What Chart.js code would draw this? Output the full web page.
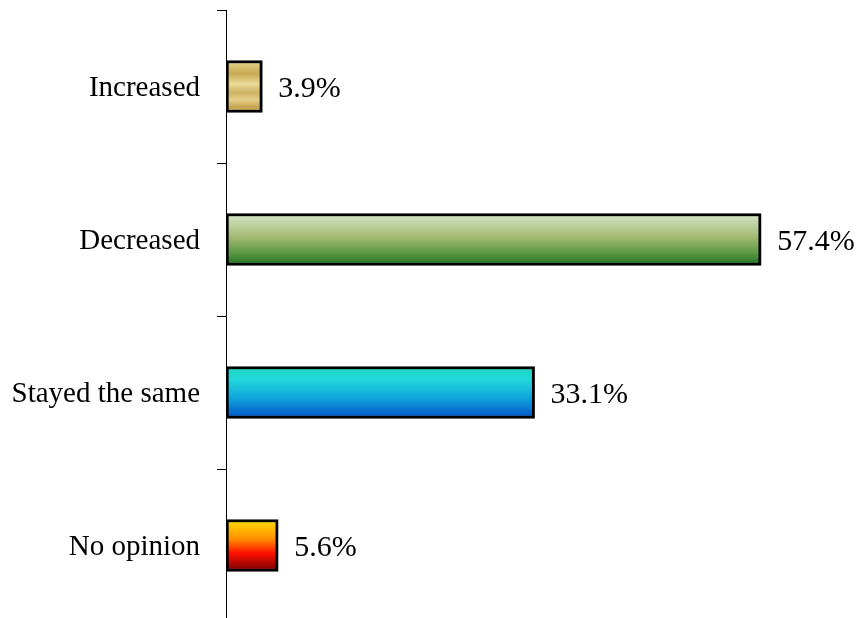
<!DOCTYPE html>
<html><head><meta charset="utf-8">
<script src="https://cdn.jsdelivr.net/npm/chart.js@4/dist/chart.umd.min.js"></script>
<style>html,body{margin:0;padding:0;background:#fff;overflow:hidden}#wrap{width:861px;height:622px}</style>
</head><body><div id="wrap"><canvas id="c" width="861" height="622"></canvas></div>
<script>
const categories = ["Increased", "Decreased", "Stayed the same", "No opinion"];
const values = [3.9, 57.4, 33.1, 5.6];
const valueLabels = ["3.9%", "57.4%", "33.1%", "5.6%"];
const baseColors = ["#d6be70", "#8fb060", "#18b0dc", "#ff6000"];
const gradientStops = [
  [[0,"#e9d792"],[0.25,"#c8aa52"],[0.45,"#eadb98"],[0.62,"#cdb263"],[0.76,"#e4cf88"],[0.9,"#c4a34e"],[1,"#d8c070"]],
  [[0,"#d6e6c8"],[0.45,"#a4bb74"],[0.75,"#5f9a45"],[1,"#1d6e1e"]],
  [[0,"#1cd6bc"],[0.25,"#22d8dc"],[0.6,"#10a6dc"],[1,"#0050c4"]],
  [[0,"#ffe000"],[0.38,"#ff8c00"],[0.65,"#ff1000"],[1,"#700000"]]
];
const BAR = 52;
const gradPlugin = {
  id: 'grad',
  beforeDatasetsDraw(chart) {
    const ctx = chart.ctx;
    chart.getDatasetMeta(0).data.forEach((bar, i) => {
      if (!isFinite(bar.y)) return;
      const g = ctx.createLinearGradient(0, bar.y - BAR/2, 0, bar.y + BAR/2);
      gradientStops[i].forEach(s => g.addColorStop(s[0], s[1]));
      bar.options.backgroundColor = g;
    });
  }
};
const valuePlugin = {
  id: 'vals',
  afterDatasetsDraw(chart) {
    const ctx = chart.ctx;
    const meta = chart.getDatasetMeta(0);
    ctx.save();
    ctx.font = '30px "Liberation Serif", "Times New Roman", serif';
    ctx.fillStyle = '#000';
    ctx.textAlign = 'left';
    ctx.textBaseline = 'middle';
    meta.data.forEach((bar, i) => {
      ctx.fillText(valueLabels[i], bar.x + 16, bar.y + 3);
    });
    ctx.restore();
  }
};
new Chart(document.getElementById('c'), {
  type: 'bar',
  data: {
    labels: categories,
    datasets: [{
      data: values,
      barThickness: BAR,
      borderColor: '#000',
      borderWidth: 3,
      borderSkipped: false,
      backgroundColor: baseColors
    }]
  },
  options: {
    indexAxis: 'y',
    responsive: false,
    animation: false,
    events: [],
    layout: { padding: { top: 10, right: 29, bottom: 0, left: 0 } },
    plugins: { legend: { display: false }, tooltip: { enabled: false } },
    scales: {
      x: { display: false, min: 0, max: 65 },
      y: {
        afterFit(s) { s.width = 226; s.paddingTop = 0; s.paddingBottom = 0; },
        border: { display: true, color: '#000', width: 1 },
        grid: { display: true, drawOnChartArea: false, drawTicks: true, tickLength: 9, color: '#000', offset: true },
        ticks: { color: '#000', padding: 17, labelOffset: 2, font: { family: '"Liberation Serif", "Times New Roman", serif', size: 29 } }
      }
    }
  },
  plugins: [gradPlugin, valuePlugin]
});
</script></body></html>
